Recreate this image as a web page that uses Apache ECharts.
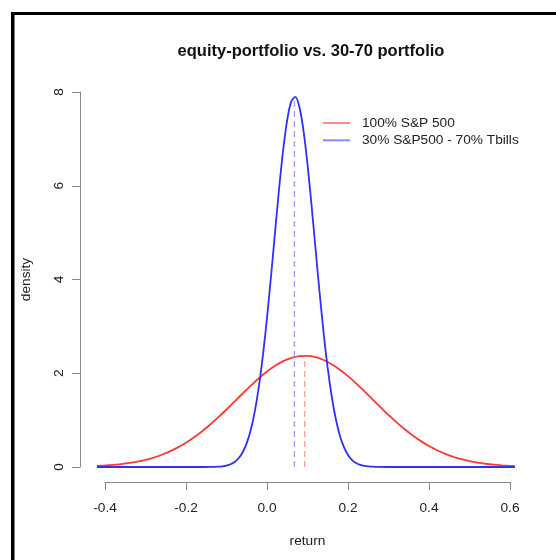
<!DOCTYPE html>
<html>
<head>
<meta charset="utf-8">
<script src="https://cdn.jsdelivr.net/npm/echarts@6/dist/echarts.min.js"></script>
<style>html,body{margin:0;padding:0;background:#fff}#c{width:556px;height:560px}</style>
</head>
<body>
<div id="c"></div>
<script>
// ---- data ----
const chartTitle = 'equity-portfolio vs. 30-70 portfolio';
const seriesNames = ['100% S&P 500', '30% S&P500 - 70% Tbills'];

const returnsSP = [-0.42,-0.40,-0.38,-0.36,-0.34,-0.32,-0.30,-0.28,-0.26,-0.24,-0.22,-0.20,-0.18,-0.16,-0.14,-0.12,-0.10,-0.08,-0.06,-0.04,-0.02,0.00,0.02,0.04,0.06,0.08,0.10,0.12,0.14,0.16,0.18,0.20,0.22,0.24,0.26,0.28,0.30,0.32,0.34,0.36,0.38,0.40,0.42,0.44,0.46,0.48,0.50,0.52,0.54,0.56,0.58,0.60,0.612];
const densitySP = [0.022,0.032,0.045,0.063,0.086,0.116,0.154,0.202,0.261,0.333,0.419,0.519,0.634,0.764,0.907,1.063,1.227,1.397,1.568,1.735,1.894,2.037,2.160,2.259,2.329,2.367,2.372,2.344,2.283,2.193,2.076,1.938,1.784,1.619,1.448,1.278,1.111,0.953,0.806,0.671,0.552,0.447,0.357,0.281,0.218,0.167,0.126,0.094,0.069,0.050,0.036,0.025,0.020];

const returnsMix = [-0.42,-0.20,-0.16,-0.14,-0.12,-0.11,-0.10,-0.09,-0.08,-0.07,-0.06,-0.05,-0.04,-0.03,-0.02,-0.01,0.00,0.01,0.02,0.03,0.04,0.05,0.06,0.07,0.08,0.09,0.10,0.11,0.12,0.13,0.14,0.15,0.16,0.17,0.18,0.19,0.20,0.21,0.22,0.23,0.24,0.25,0.26,0.28,0.30,0.34,0.612];
const densityMix = [0,0,0.0003,0.0016,0.0075,0.0155,0.031,0.058,0.106,0.186,0.314,0.510,0.796,1.193,1.721,2.386,3.180,4.074,5.020,5.946,6.770,7.412,7.801,7.894,7.680,7.182,6.458,5.583,4.640,3.707,2.847,2.103,1.493,1.019,0.669,0.422,0.256,0.149,0.084,0.045,0.023,0.012,0.006,0.001,0.0002,0,0];

const meanSP = 0.0931, peakSP = 2.372;
const meanMix = 0.0677, peakMix = 7.894;

const xTickValues = [-0.4,-0.2,0,0.2,0.4,0.6];
const xTickLabels = ['-0.4','-0.2','0.0','0.2','0.4','0.6'];
const yTickValues = [0,2,4,6,8];
const yTickLabels = ['0','2','4','6','8'];

// ---- chart ----
const FONT = "'Liberation Sans', Arial, Helvetica, sans-serif";
const RED = '#ff3a2c', BLUE = '#2f2fff';
const AXIS = '#8a8a8a';
const FS = 13.7;
const zip = (xs, ys) => xs.map((x, i) => [x, ys[i]]);

// data range and tick range share one pixel scale
const dataMin = returnsSP[0], dataMax = returnsSP[returnsSP.length - 1];
const tickMin = xTickValues[0], tickMax = xTickValues[xTickValues.length - 1];
const tickLeft = 105, tickRight = 46;
const pxPerUnit = (556 - tickLeft - tickRight) / (tickMax - tickMin);
const dataLeft = tickLeft - (tickMin - dataMin) * pxPerUnit;
const dataRight = tickRight - (dataMax - tickMax) * pxPerUnit;

const chart = echarts.init(document.getElementById('c'), null, {renderer: 'canvas'});
chart.setOption({
  animation: false,
  backgroundColor: '#fff',
  textStyle: {fontFamily: FONT},
  title: {
    text: chartTitle,
    left: 306, top: 38, textAlign: 'center',
    textStyle: {fontFamily: FONT, fontSize: 16.5, fontWeight: 'bold', color: '#111'}
  },
  legend: {
    orient: 'vertical', left: 318, top: 110,
    itemWidth: 27, itemHeight: 2, itemGap: 1.3, icon: 'rect',
    textStyle: {fontFamily: FONT, fontSize: FS, color: '#222', lineHeight: 16, padding: [0,0,0,7]},
    data: [
      {name: seriesNames[0], itemStyle: {color: '#ff8a84'}},
      {name: seriesNames[1], itemStyle: {color: '#8a8aff'}}
    ]
  },
  grid: [
    {left: dataLeft, right: dataRight, top: 92, bottom: 93},
    {left: tickLeft, right: tickRight, top: 92, bottom: 93}
  ],
  xAxis: [
    {type: 'value', gridIndex: 0, min: dataMin, max: dataMax, show: false},
    {
      type: 'value', gridIndex: 1, min: tickMin, max: tickMax, interval: 0.2, offset: 15,
      axisLine: {show: true, onZero: false, lineStyle: {color: AXIS, width: 1}},
      axisTick: {show: true, length: 8, lineStyle: {color: AXIS}},
      axisLabel: {margin: 19, fontSize: FS, color: '#222', fontFamily: FONT,
        formatter: v => { const i = xTickValues.findIndex(t => Math.abs(t - v) < 1e-9); return i >= 0 ? xTickLabels[i] : ''; }},
      splitLine: {show: false},
      name: 'return', nameLocation: 'middle', nameGap: 52,
      nameTextStyle: {fontSize: FS, color: '#222', fontFamily: FONT}
    }
  ],
  yAxis: [
    {
      type: 'value', gridIndex: 0, min: 0, max: 8, interval: 2, offset: dataLeft - 80,
      axisLine: {show: true, onZero: false, lineStyle: {color: AXIS, width: 1}},
      axisTick: {show: true, length: 8, lineStyle: {color: AXIS}},
      axisLabel: {rotate: 90, margin: 14, fontSize: FS, color: '#222', fontFamily: FONT,
        formatter: v => { const i = yTickValues.indexOf(v); return i >= 0 ? yTickLabels[i] : ''; }},
      splitLine: {show: false},
      name: 'density', nameLocation: 'middle', nameGap: 47, nameRotate: 90,
      nameTextStyle: {fontSize: FS, color: '#222', fontFamily: FONT}
    },
    {type: 'value', gridIndex: 1, min: 0, max: 8, show: false}
  ],
  series: [
    {type: 'line', name: 'meanMix', xAxisIndex: 0, yAxisIndex: 0, data: [[meanMix, 0], [meanMix, peakMix]], silent: true,
     showSymbol: false, symbol: 'none', lineStyle: {color: '#9c9cff', width: 1.3, type: [6, 4]}, z: 1},
    {type: 'line', name: 'meanSP', xAxisIndex: 0, yAxisIndex: 0, data: [[meanSP, 0], [meanSP, peakSP]], silent: true,
     showSymbol: false, symbol: 'none', lineStyle: {color: '#ff9c96', width: 1.3, type: [6, 4]}, z: 1},
    {type: 'line', name: seriesNames[0], xAxisIndex: 0, yAxisIndex: 0, data: zip(returnsSP, densitySP), smooth: 0.3, clip: false,
     showSymbol: false, symbol: 'none', color: RED, lineStyle: {color: RED, width: 1.8}, z: 2},
    {type: 'line', name: seriesNames[1], xAxisIndex: 0, yAxisIndex: 0, data: zip(returnsMix, densityMix), smooth: 0.3, clip: false,
     showSymbol: false, symbol: 'none', color: BLUE, lineStyle: {color: BLUE, width: 1.8}, z: 3}
  ],
  graphic: [
    {type: 'rect', shape: {x: 11, y: 12, width: 3.5, height: 548}, style: {fill: '#000'}, silent: true},
    {type: 'rect', shape: {x: 11, y: 12, width: 545, height: 3}, style: {fill: '#000'}, silent: true}
  ]
});
</script>
</body>
</html>
